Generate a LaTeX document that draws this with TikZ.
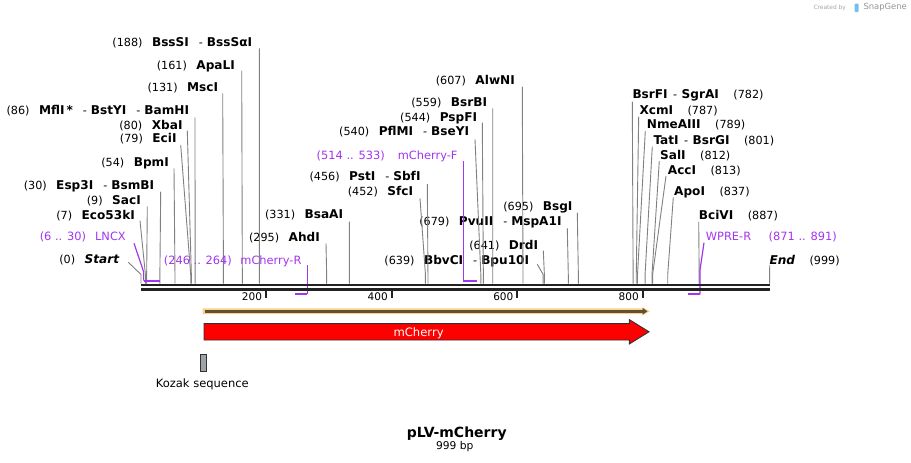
\documentclass[tikz,border=0pt]{standalone}
\usepackage{fontspec}
\setmainfont{DejaVu Sans}
\usetikzlibrary{arrows.meta}
\definecolor{primer}{RGB}{163,52,240}
\definecolor{sitegray}{RGB}{128,128,128}
\definecolor{barc}{RGB}{34,34,34}
\definecolor{orfband}{RGB}{250,210,135}
\definecolor{orfline}{RGB}{95,80,55}
\definecolor{kozakc}{RGB}{158,162,170}
\definecolor{featborder}{RGB}{50,50,50}
\definecolor{wmgray}{RGB}{165,165,165}
\definecolor{wmblue}{RGB}{110,192,240}
\newcommand\sx[1]{141+0.6293*#1}
\newcommand\bn[1]{{\bfseries\fontsize{12.1}{13}\selectfont #1}}
\newcommand\dsh{\hspace{10pt}{\mdseries\fontsize{11.2}{13}\selectfont -}\hspace{4pt}}
\newcommand\rdsh{\hspace{5.5pt}{\mdseries\fontsize{11.2}{13}\selectfont -}\hspace{4.5pt}}
\newcommand\lft[2]{(#1)\hspace{9.5pt}\bn{#2}}
\newcommand\rgt[2]{\bn{#1}\hspace{14.5pt}(#2)}
\newcommand\rsite[3]{%
  \coordinate (s#1) at ({\sx{#1}},283.5);
  \coordinate (t#1) at (#2,#3);
  \draw[rs] (t#1) -- ([yshift=9pt]s#1) -- (s#1);}
\tikzset{
  lbl/.style={inner sep=0pt, font=\fontsize{11.2}{13}\selectfont, text height=8.4pt, text depth=0pt},
  llab/.style={lbl, anchor=east},
  rlab/.style={lbl, anchor=west},
  plab/.style={lbl, text=primer, font=\fontsize{11.4}{13}\selectfont},
  rs/.style={draw=sitegray, line width=0.9pt},
  pleader/.style={draw=primer, line width=1.2pt},
  pline/.style={draw=primer, line width=2pt},
  barline/.style={draw=barc, line width=2.7pt},
  tickmark/.style={draw=barc, line width=1.8pt},
  ticklab/.style={inner sep=0pt, anchor=east, font=\fontsize{10.5}{12}\selectfont, text height=7.6pt, text depth=0pt},
}
\begin{document}
\begin{tikzpicture}[x=1pt,y=-1pt]
\useasboundingbox (0,0) rectangle (911,463);

% watermark
\node[inner sep=0pt, anchor=west, text=wmgray, font=\fontsize{5.9}{7}\selectfont] (wm1) at (813.3,7.5) {Created by};
\fill[wmblue, rounded corners=1pt] (854.5,3.5) rectangle (858.5,12);
\node[inner sep=0pt, anchor=west, text=wmgray!90!black, font=\fontsize{8.4}{10}\selectfont] (wm2) at (863.3,7.5) {SnapGene};

% ---------- restriction site labels (left of line) ----------
\node[llab] (n188) at (252.3,42.3) {\lft{188}{BssSI\dsh BssSαI}};
\node[llab] (n161) at (235,65) {\lft{161}{ApaLI}};
\node[llab] (n131) at (218.3,87.3) {\lft{131}{MscI}};
\node[llab] (n86) at (189.3,110) {\lft{86}{MflI\,*\dsh BstYI\dsh BamHI}};
\node[llab] (n80) at (182.7,125) {\lft{80}{XbaI}};
\node[llab] (n79) at (176.7,138.3) {\lft{79}{EciI}};
\node[llab] (n54) at (169,162.3) {\lft{54}{BpmI}};
\node[llab] (n30) at (154.3,185) {\lft{30}{Esp3I\dsh BsmBI}};
\node[llab] (n9) at (141,200) {\lft{9}{SacI}};
\node[llab] (n7) at (135,215) {\lft{7}{Eco53kI}};
\node[llab] (n0) at (119.3,259.3) {\lft{0}{\itshape Start}};
\node[llab] (n295) at (320,237.3) {\lft{295}{AhdI}};
\node[llab] (n331) at (343.3,214.3) {\lft{331}{BsaAI}};
\node[llab] (n607) at (515,80.7) {\lft{607}{AlwNI}};
\node[llab] (n559) at (487.3,102.3) {\lft{559}{BsrBI}};
\node[llab] (n544) at (477.3,117.3) {\lft{544}{PspFI}};
\node[llab] (n540) at (469.3,131.7) {\lft{540}{PflMI\dsh BseYI}};
\node[llab] (n456) at (420.7,176.7) {\lft{456}{PstI\dsh SbfI}};
\node[llab] (n452) at (413.3,191.7) {\lft{452}{SfcI}};
\node[llab] (n695) at (572.7,206.7) {\lft{695}{BsgI}};
\node[llab] (n679) at (561.7,221.7) {\lft{679}{PvuII\dsh MspA1I}};
\node[llab] (n641) at (538.3,245) {\lft{641}{DrdI}};
\node[llab] (n639) at (529.3,260) {\lft{639}{BbvCI\dsh Bpu10I}};
% right side
\node[rlab] (n782) at (632.3,94.3) {\rgt{BsrFI\rdsh SgrAI}{782}};
\node[rlab] (n787) at (639.3,110) {\rgt{XcmI}{787}};
\node[rlab] (n789) at (646.7,124.3) {\rgt{NmeAIII}{789}};
\node[rlab] (n801) at (653.3,140) {\rgt{TatI\rdsh BsrGI}{801}};
\node[rlab] (n812) at (660,155) {\rgt{SalI}{812}};
\node[rlab] (n813) at (667.7,170) {\rgt{AccI}{813}};
\node[rlab] (n837) at (674,191.7) {\rgt{ApoI}{837}};
\node[rlab] (n887) at (698.7,215) {\rgt{BciVI}{887}};
\node[rlab] (n999) at (769.3,260) {\rgt{\itshape End}{999}};

% ---------- site lines ----------
\rsite{188}{259.3}{48.3}
\rsite{161}{241.7}{70.7}
\rsite{131}{222.7}{93.3}
\rsite{86}{195}{117.3}
\rsite{80}{187.3}{130.7}
\rsite{79}{180.7}{145}
\rsite{54}{174}{168.3}
\rsite{30}{160.7}{191.7}
\rsite{9}{147.3}{206.7}
\rsite{7}{140}{220.7}
\rsite{0}{128.3}{262.3}
\rsite{295}{326}{243.3}
\rsite{331}{349.3}{221.7}
\rsite{607}{522.3}{86.7}
\rsite{559}{492.7}{108.3}
\rsite{544}{482.3}{122.7}
\rsite{540}{475}{139.3}
\rsite{456}{427.3}{184}
\rsite{452}{420}{198.3}
\rsite{695}{577.3}{212.7}
\rsite{679}{567.3}{228.3}
\rsite{641}{543.3}{250.7}
\rsite{639}{537.3}{264.3}
\rsite{782}{632.3}{101.7}
\rsite{787}{638.7}{116.7}
\rsite{789}{645.3}{131}
\rsite{801}{652.3}{146.7}
\rsite{812}{659.3}{161}
\rsite{813}{666}{176}
\rsite{837}{673.3}{197.3}
\rsite{887}{698.7}{221.7}
\rsite{999}{769.7}{265}

% ---------- primers ----------
\node[plab, anchor=east] (lncx) at (126,236.7) {(6 .. 30)\hspace{9pt}LNCX};
\coordinate (lncxt) at (134,243.3);
\coordinate (lncxa) at (143.6,280.7);
\coordinate (lncxb) at (159.5,280.7);
\draw[pleader] (lncxt) -- (143.6,271.7) -- (lncxa);
\draw[pline] (lncxa) -- (lncxb);

\node[plab, anchor=east] (mchr) at (301.7,260) {(246 .. 264)\hspace{8.5pt}mCherry-R};
\coordinate (mchrt) at (307.3,265);
\coordinate (mchra) at (307.3,294);
\coordinate (mchrb) at (295.3,294);
\draw[pleader] (mchrt) -- (mchra);
\draw[pline] (mchra) -- (mchrb);

\node[plab, anchor=east] (mchf) at (457.7,155) {(514 .. 533)\hspace{13pt}mCherry-F};
\coordinate (mchft) at (463.3,161);
\coordinate (mchfa) at (463.3,280.7);
\coordinate (mchfb) at (476.5,280.7);
\draw[pleader] (mchft) -- (mchfa);
\draw[pline] (mchfa) -- (mchfb);

\node[plab, anchor=west] (wpre) at (705.7,236.7) {WPRE-R\hspace{17.5pt}(871 .. 891)};
\coordinate (wpret) at (704,242.7);
\coordinate (wprea) at (700,294);
\coordinate (wpreb) at (688.3,294);
\draw[pleader] (wpret) -- (700,270) -- (wprea);
\draw[pline] (wprea) -- (wpreb);

% ---------- sequence bar ----------
\coordinate (barL1) at (141,284.9);
\coordinate (barR1) at (770,284.9);
\coordinate (barL2) at (141,289.6);
\coordinate (barR2) at (770,289.6);
\draw[barline] (barL1) -- (barR1);
\draw[barline] (barL2) -- (barR2);

% ticks
\foreach \tx/\tl in {266/200, 391.7/400, 517.3/600, 642.7/800}{
  \draw[tickmark] (\tx,291) -- (\tx,297.5);
  \node[ticklab] (tk\tl) at (\tx-3.8,296.5) {\tl};
}

% ---------- ORF ----------
\fill[orfband] (202.7,308.4) -- (642.5,308.4) -- (642.5,307.2) -- (649.8,311.3) -- (642.5,315.4) -- (642.5,314.2) -- (202.7,314.2) -- cycle;
\coordinate (orfa) at (204.5,311.3);
\coordinate (orfb) at (647.5,311.3);
\draw[orfline, line width=2.4pt, -{Triangle[length=5pt,width=6.5pt]}] (orfa) -- (orfb);

% ---------- mCherry feature ----------
\draw[fill=red, draw=featborder, line width=0.9pt] (204,323.6) -- (629.3,323.6) -- (629.3,319.6) -- (649,331.8) -- (629.3,344) -- (629.3,340) -- (204,340) -- cycle;
\node[inner sep=0pt, text=white, font=\fontsize{11.6}{13}\selectfont, text height=8.5pt, text depth=0pt] (mcherry) at (418.6,331.8) {mCherry};

% ---------- Kozak ----------
\node[draw=featborder, fill=kozakc, line width=0.9pt, inner sep=0pt, minimum width=6.2pt, minimum height=16.6pt] (kozak) at (203.3,363) {};
\node[inner sep=0pt, font=\fontsize{11.5}{13}\selectfont, text height=8.4pt, text depth=0pt] (kozaklab) at (202.3,383.2) {Kozak sequence};

% ---------- title ----------
\node[inner sep=0pt, font=\bfseries\fontsize{14}{16}\selectfont, text height=10.2pt, text depth=0pt] (title) at (456.7,432.5) {pLV-mCherry};
\node[inner sep=0pt, font=\fontsize{10.7}{12}\selectfont, text height=7.8pt, text depth=0pt] (bplen) at (454.7,445.7) {999 bp};
\end{tikzpicture}
\end{document}
